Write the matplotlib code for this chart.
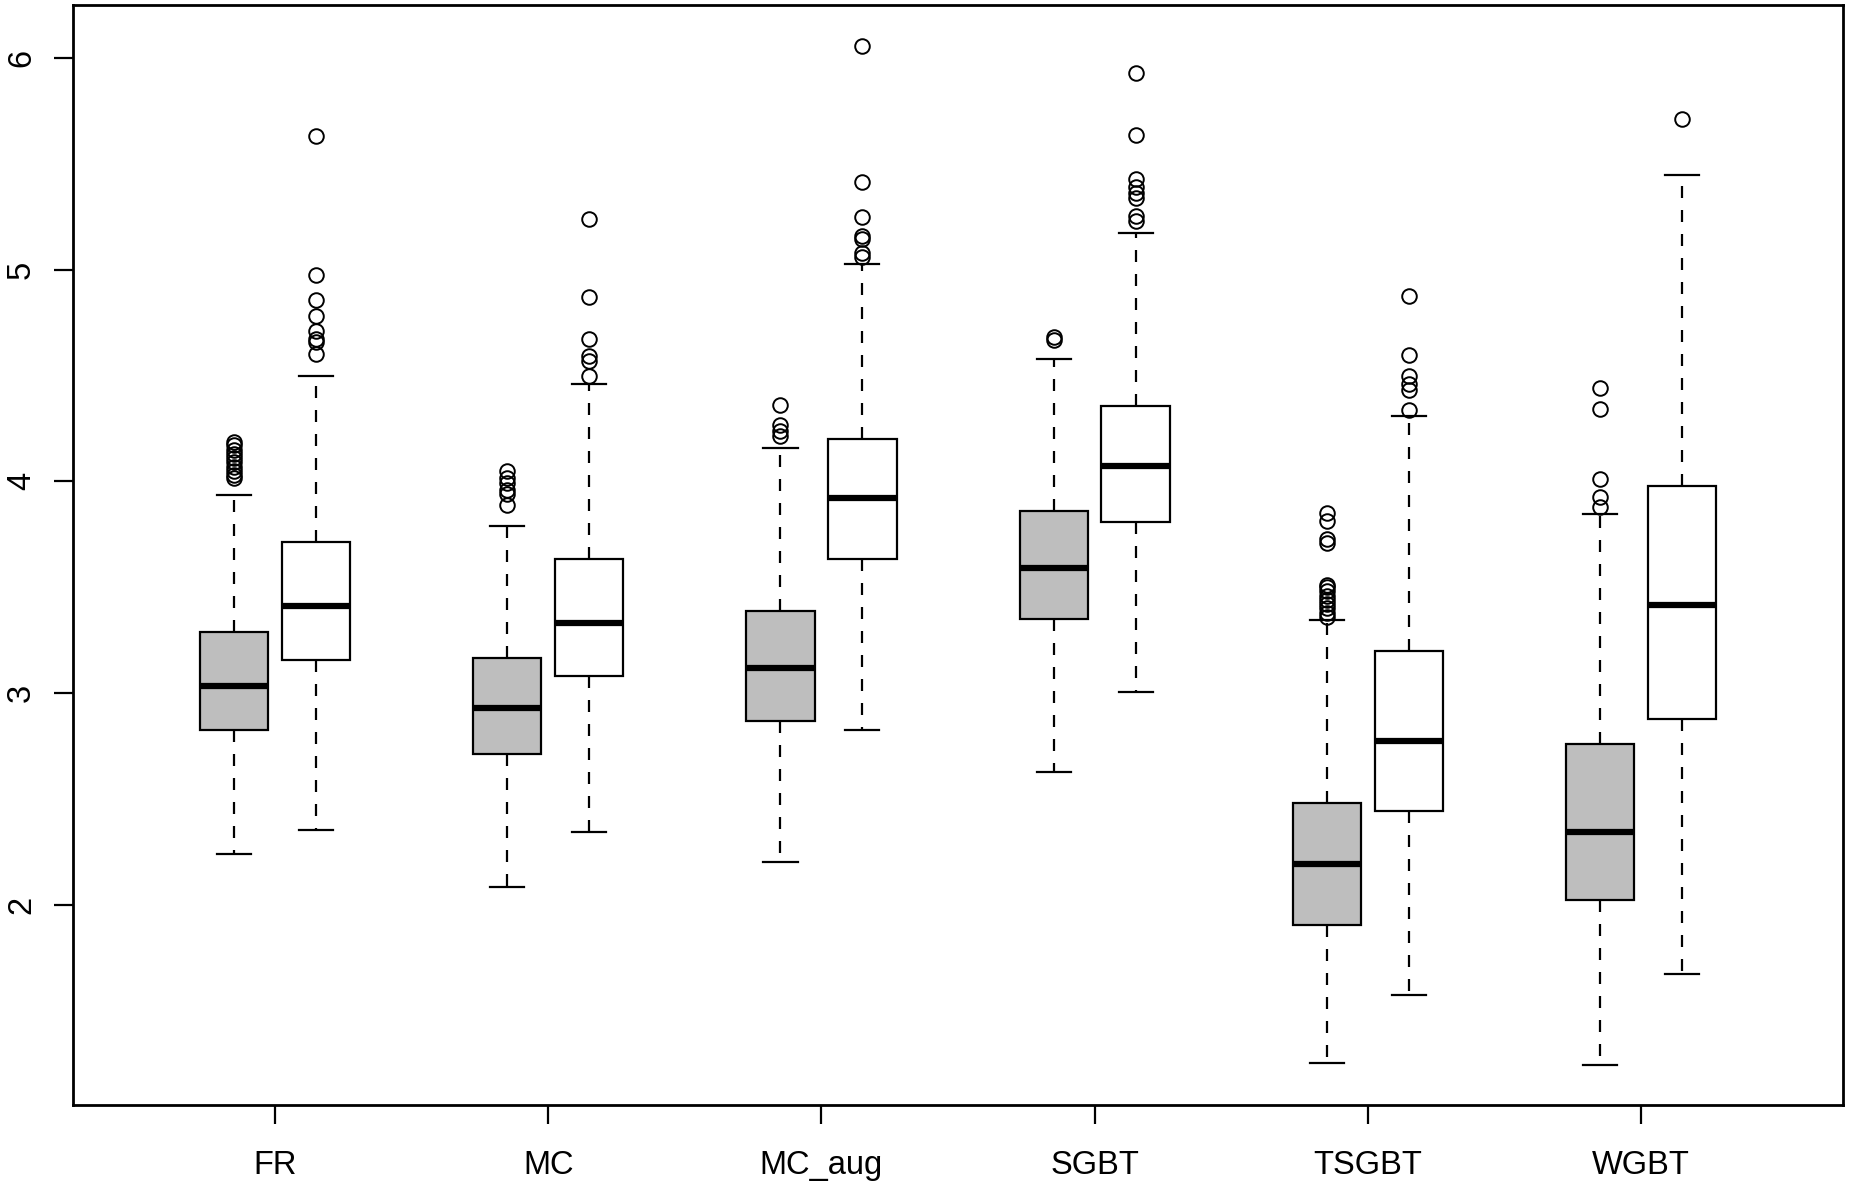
import matplotlib
matplotlib.use('Agg')
import matplotlib.pyplot as plt

plt.rcParams['font.family'] = ['Liberation Sans', 'DejaVu Sans']

methods = ['FR', 'MC', 'MC_aug', 'SGBT', 'TSGBT', 'WGBT']

# grey boxes (first series per method)
grey_lo = [2.238, 2.082, 2.203, 2.627, 1.252, 1.241]
grey_q1 = [2.823, 2.714, 2.868, 3.351, 1.906, 2.022]
grey_med = [3.034, 2.929, 3.118, 3.590, 2.192, 2.341]
grey_q3 = [3.289, 3.163, 3.389, 3.861, 2.480, 2.757]
grey_hi = [3.937, 3.790, 4.159, 4.579, 3.344, 3.848]
grey_fliers = [
    [4.016, 4.03, 4.05, 4.07, 4.09, 4.11, 4.13, 4.15, 4.17, 4.186],
    [3.888, 3.939, 3.96, 3.993, 4.018, 4.047],
    [4.213, 4.24, 4.268, 4.362],
    [4.668, 4.68],
    [3.36, 3.38, 3.40, 3.42, 3.44, 3.46, 3.48, 3.50, 3.51,
     3.707, 3.726, 3.814, 3.849],
    [3.879, 3.924, 4.009, 4.344, 4.443],
]

# white boxes (second series per method)
white_lo = [2.353, 2.342, 2.824, 3.007, 1.574, 1.672]
white_q1 = [3.156, 3.080, 3.631, 3.806, 2.440, 2.879]
white_med = [3.411, 3.333, 3.920, 4.074, 2.772, 3.415]
white_q3 = [3.714, 3.633, 4.199, 4.358, 3.199, 3.976]
white_hi = [4.497, 4.461, 5.025, 5.172, 4.311, 5.447]
white_fliers = [
    [4.60, 4.66, 4.674, 4.709, 4.781, 4.855, 4.975, 5.633],
    [4.497, 4.570, 4.593, 4.674, 4.872, 5.239],
    [5.06, 5.081, 5.145, 5.159, 5.25, 5.414, 6.058],
    [5.23, 5.253, 5.338, 5.362, 5.389, 5.429, 5.638, 5.929],
    [4.335, 4.43, 4.461, 4.499, 4.595, 4.875],
    [5.711],
]

yticks = [2, 3, 4, 5, 6]


def make_stats(lo, q1, med, q3, hi, fliers):
    return [dict(whislo=a, q1=b, med=c, q3=d, whishi=e, fliers=f)
            for a, b, c, d, e, f in zip(lo, q1, med, q3, hi, fliers)]


fig = plt.figure(figsize=(18.52, 11.84), dpi=100)
ax = fig.add_axes([0.0393, 0.0667, 0.9560, 0.9291])

lw = 1.6
common = dict(
    widths=0.25,
    patch_artist=True,
    manage_ticks=False,
    whiskerprops=dict(color='black', linewidth=lw, linestyle=(0, (5.4, 5.4))),
    capprops=dict(color='black', linewidth=lw),
    medianprops=dict(color='black', linewidth=4.5, solid_capstyle='butt'),
    flierprops=dict(marker='o', markerfacecolor='none', markeredgecolor='black',
                    markersize=10.5, markeredgewidth=1.4, linestyle='none'),
)

pos = list(range(1, len(methods) + 1))
ax.bxp(make_stats(grey_lo, grey_q1, grey_med, grey_q3, grey_hi, grey_fliers),
       positions=[p - 0.15 for p in pos],
       boxprops=dict(facecolor='#BEBEBE', edgecolor='black', linewidth=lw),
       **common)
ax.bxp(make_stats(white_lo, white_q1, white_med, white_q3, white_hi, white_fliers),
       positions=[p + 0.15 for p in pos],
       boxprops=dict(facecolor='white', edgecolor='black', linewidth=lw),
       **common)

ax.set_xlim(0.26, 6.74)
ax.set_ylim(1.053, 6.251)
ax.set_xticks(pos)
ax.set_xticklabels(methods)
ax.set_yticks(yticks)
ax.set_yticklabels([str(t) for t in yticks], rotation=90, va='center')

for s in ax.spines.values():
    s.set_linewidth(2.0)
ax.tick_params(axis='both', length=13.7, width=1.6, labelsize=23.5)
ax.tick_params(axis='x', pad=18.5)
ax.tick_params(axis='y', pad=12)

fig.savefig('out.png', dpi=100)
